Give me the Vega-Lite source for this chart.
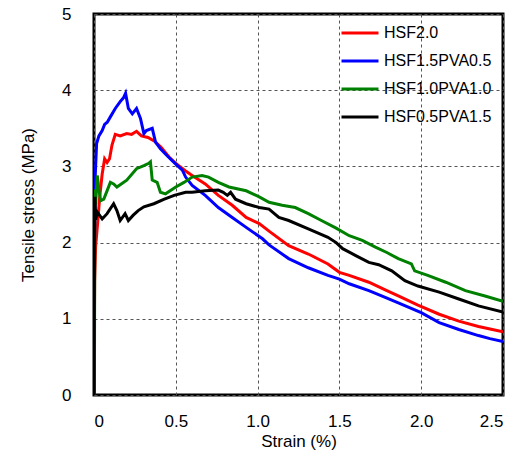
{
  "$schema": "https://vega.github.io/schema/vega-lite/v6.json",
  "width": 409,
  "height": 381,
  "autosize": {"type": "none"},
  "padding": {"left": 94, "top": 14, "right": 19, "bottom": 64},
  "background": "white",
  "config": {
    "font": "Liberation Sans",
    "view": {"stroke": "black", "strokeWidth": 3},
    "axis": {
      "domain": false,
      "ticks": false,
      "grid": true,
      "gridColor": "#555555",
      "gridDash": [3, 3],
      "gridWidth": 1,
      "labelFont": "Liberation Sans",
      "labelFontSize": 17,
      "labelColor": "black",
      "titleFont": "Liberation Sans",
      "titleFontSize": 17,
      "titleFontWeight": "normal",
      "titleColor": "black"
    },
    "legend": {
      "orient": "none",
      "legendX": 246,
      "legendY": 7,
      "padding": 0,
      "symbolType": "stroke",
      "symbolSize": 1369,
      "symbolStrokeWidth": 3,
      "clipHeight": 24,
      "rowPadding": 4,
      "labelFont": "Liberation Sans",
      "labelFontSize": 16,
      "labelColor": "black",
      "labelOffset": 4
    }
  },
  "data": {
    "values": [
      {"series": "HSF2.0", "strain": 0, "stress": 0},
      {"series": "HSF2.0", "strain": 0.004, "stress": 1.5},
      {"series": "HSF2.0", "strain": 0.01, "stress": 1.95},
      {"series": "HSF2.0", "strain": 0.02, "stress": 2.2},
      {"series": "HSF2.0", "strain": 0.035, "stress": 2.6},
      {"series": "HSF2.0", "strain": 0.05, "stress": 2.9},
      {"series": "HSF2.0", "strain": 0.065, "stress": 3.1},
      {"series": "HSF2.0", "strain": 0.08, "stress": 3.05},
      {"series": "HSF2.0", "strain": 0.095, "stress": 3.1},
      {"series": "HSF2.0", "strain": 0.11, "stress": 3.28},
      {"series": "HSF2.0", "strain": 0.13, "stress": 3.42},
      {"series": "HSF2.0", "strain": 0.16, "stress": 3.4},
      {"series": "HSF2.0", "strain": 0.2, "stress": 3.43},
      {"series": "HSF2.0", "strain": 0.23, "stress": 3.42},
      {"series": "HSF2.0", "strain": 0.26, "stress": 3.46},
      {"series": "HSF2.0", "strain": 0.29, "stress": 3.4},
      {"series": "HSF2.0", "strain": 0.33, "stress": 3.38},
      {"series": "HSF2.0", "strain": 0.37, "stress": 3.33},
      {"series": "HSF2.0", "strain": 0.41, "stress": 3.25},
      {"series": "HSF2.0", "strain": 0.46, "stress": 3.12},
      {"series": "HSF2.0", "strain": 0.5, "stress": 3.04},
      {"series": "HSF2.0", "strain": 0.56, "stress": 2.94},
      {"series": "HSF2.0", "strain": 0.6, "stress": 2.88},
      {"series": "HSF2.0", "strain": 0.68, "stress": 2.77},
      {"series": "HSF2.0", "strain": 0.76, "stress": 2.62},
      {"series": "HSF2.0", "strain": 0.845, "stress": 2.49},
      {"series": "HSF2.0", "strain": 0.93, "stress": 2.33},
      {"series": "HSF2.0", "strain": 1.01, "stress": 2.25},
      {"series": "HSF2.0", "strain": 1.07, "stress": 2.15},
      {"series": "HSF2.0", "strain": 1.19, "stress": 1.96},
      {"series": "HSF2.0", "strain": 1.31, "stress": 1.85},
      {"series": "HSF2.0", "strain": 1.43, "stress": 1.72},
      {"series": "HSF2.0", "strain": 1.5, "stress": 1.61},
      {"series": "HSF2.0", "strain": 1.56, "stress": 1.57},
      {"series": "HSF2.0", "strain": 1.68, "stress": 1.48},
      {"series": "HSF2.0", "strain": 1.79, "stress": 1.37},
      {"series": "HSF2.0", "strain": 1.86, "stress": 1.3},
      {"series": "HSF2.0", "strain": 1.98, "stress": 1.18},
      {"series": "HSF2.0", "strain": 2.11, "stress": 1.06},
      {"series": "HSF2.0", "strain": 2.23, "stress": 0.97},
      {"series": "HSF2.0", "strain": 2.35, "stress": 0.9},
      {"series": "HSF2.0", "strain": 2.5, "stress": 0.83},

      {"series": "HSF1.5PVA0.5", "strain": 0, "stress": 0},
      {"series": "HSF1.5PVA0.5", "strain": 0.003, "stress": 1.9},
      {"series": "HSF1.5PVA0.5", "strain": 0.008, "stress": 2.9},
      {"series": "HSF1.5PVA0.5", "strain": 0.016, "stress": 3.3},
      {"series": "HSF1.5PVA0.5", "strain": 0.03, "stress": 3.4},
      {"series": "HSF1.5PVA0.5", "strain": 0.05, "stress": 3.47},
      {"series": "HSF1.5PVA0.5", "strain": 0.065, "stress": 3.55},
      {"series": "HSF1.5PVA0.5", "strain": 0.081, "stress": 3.58},
      {"series": "HSF1.5PVA0.5", "strain": 0.1, "stress": 3.65},
      {"series": "HSF1.5PVA0.5", "strain": 0.13, "stress": 3.76},
      {"series": "HSF1.5PVA0.5", "strain": 0.16, "stress": 3.85},
      {"series": "HSF1.5PVA0.5", "strain": 0.18, "stress": 3.9},
      {"series": "HSF1.5PVA0.5", "strain": 0.193, "stress": 3.96},
      {"series": "HSF1.5PVA0.5", "strain": 0.21, "stress": 3.76},
      {"series": "HSF1.5PVA0.5", "strain": 0.234, "stress": 3.69},
      {"series": "HSF1.5PVA0.5", "strain": 0.26, "stress": 3.76},
      {"series": "HSF1.5PVA0.5", "strain": 0.284, "stress": 3.63},
      {"series": "HSF1.5PVA0.5", "strain": 0.305, "stress": 3.43},
      {"series": "HSF1.5PVA0.5", "strain": 0.32, "stress": 3.47},
      {"series": "HSF1.5PVA0.5", "strain": 0.356, "stress": 3.5},
      {"series": "HSF1.5PVA0.5", "strain": 0.376, "stress": 3.32},
      {"series": "HSF1.5PVA0.5", "strain": 0.406, "stress": 3.23},
      {"series": "HSF1.5PVA0.5", "strain": 0.447, "stress": 3.14},
      {"series": "HSF1.5PVA0.5", "strain": 0.5, "stress": 3.03},
      {"series": "HSF1.5PVA0.5", "strain": 0.54, "stress": 2.95},
      {"series": "HSF1.5PVA0.5", "strain": 0.56, "stress": 2.86},
      {"series": "HSF1.5PVA0.5", "strain": 0.6, "stress": 2.75},
      {"series": "HSF1.5PVA0.5", "strain": 0.68, "stress": 2.62},
      {"series": "HSF1.5PVA0.5", "strain": 0.76, "stress": 2.46},
      {"series": "HSF1.5PVA0.5", "strain": 0.845, "stress": 2.33},
      {"series": "HSF1.5PVA0.5", "strain": 0.93, "stress": 2.2},
      {"series": "HSF1.5PVA0.5", "strain": 1.03, "stress": 2.05},
      {"series": "HSF1.5PVA0.5", "strain": 1.07, "stress": 1.97},
      {"series": "HSF1.5PVA0.5", "strain": 1.19, "stress": 1.79},
      {"series": "HSF1.5PVA0.5", "strain": 1.31, "stress": 1.67},
      {"series": "HSF1.5PVA0.5", "strain": 1.43, "stress": 1.57},
      {"series": "HSF1.5PVA0.5", "strain": 1.5, "stress": 1.52},
      {"series": "HSF1.5PVA0.5", "strain": 1.56, "stress": 1.46},
      {"series": "HSF1.5PVA0.5", "strain": 1.68, "stress": 1.37},
      {"series": "HSF1.5PVA0.5", "strain": 1.78, "stress": 1.28},
      {"series": "HSF1.5PVA0.5", "strain": 1.86, "stress": 1.21},
      {"series": "HSF1.5PVA0.5", "strain": 2.0, "stress": 1.08},
      {"series": "HSF1.5PVA0.5", "strain": 2.11, "stress": 0.95},
      {"series": "HSF1.5PVA0.5", "strain": 2.23, "stress": 0.86},
      {"series": "HSF1.5PVA0.5", "strain": 2.35, "stress": 0.78},
      {"series": "HSF1.5PVA0.5", "strain": 2.42, "stress": 0.74},
      {"series": "HSF1.5PVA0.5", "strain": 2.5, "stress": 0.7},

      {"series": "HSF1.0PVA1.0", "strain": 0, "stress": 0},
      {"series": "HSF1.0PVA1.0", "strain": 0.003, "stress": 0.45},
      {"series": "HSF1.0PVA1.0", "strain": 0.005, "stress": 2.7},
      {"series": "HSF1.0PVA1.0", "strain": 0.01, "stress": 2.5},
      {"series": "HSF1.0PVA1.0", "strain": 0.02, "stress": 2.88},
      {"series": "HSF1.0PVA1.0", "strain": 0.03, "stress": 2.7},
      {"series": "HSF1.0PVA1.0", "strain": 0.04, "stress": 2.55},
      {"series": "HSF1.0PVA1.0", "strain": 0.06, "stress": 2.57},
      {"series": "HSF1.0PVA1.0", "strain": 0.1, "stress": 2.79},
      {"series": "HSF1.0PVA1.0", "strain": 0.12, "stress": 2.77},
      {"series": "HSF1.0PVA1.0", "strain": 0.14, "stress": 2.73},
      {"series": "HSF1.0PVA1.0", "strain": 0.2, "stress": 2.82},
      {"series": "HSF1.0PVA1.0", "strain": 0.26, "stress": 2.97},
      {"series": "HSF1.0PVA1.0", "strain": 0.305, "stress": 3.01},
      {"series": "HSF1.0PVA1.0", "strain": 0.335, "stress": 3.04},
      {"series": "HSF1.0PVA1.0", "strain": 0.345, "stress": 3.06},
      {"series": "HSF1.0PVA1.0", "strain": 0.356, "stress": 2.82},
      {"series": "HSF1.0PVA1.0", "strain": 0.386, "stress": 2.79},
      {"series": "HSF1.0PVA1.0", "strain": 0.406, "stress": 2.66},
      {"series": "HSF1.0PVA1.0", "strain": 0.437, "stress": 2.64},
      {"series": "HSF1.0PVA1.0", "strain": 0.5, "stress": 2.73},
      {"series": "HSF1.0PVA1.0", "strain": 0.55, "stress": 2.79},
      {"series": "HSF1.0PVA1.0", "strain": 0.6, "stress": 2.86},
      {"series": "HSF1.0PVA1.0", "strain": 0.66, "stress": 2.88},
      {"series": "HSF1.0PVA1.0", "strain": 0.7, "stress": 2.86},
      {"series": "HSF1.0PVA1.0", "strain": 0.76, "stress": 2.79},
      {"series": "HSF1.0PVA1.0", "strain": 0.825, "stress": 2.73},
      {"series": "HSF1.0PVA1.0", "strain": 0.93, "stress": 2.68},
      {"series": "HSF1.0PVA1.0", "strain": 1.01, "stress": 2.6},
      {"series": "HSF1.0PVA1.0", "strain": 1.07, "stress": 2.53},
      {"series": "HSF1.0PVA1.0", "strain": 1.15, "stress": 2.49},
      {"series": "HSF1.0PVA1.0", "strain": 1.23, "stress": 2.46},
      {"series": "HSF1.0PVA1.0", "strain": 1.31, "stress": 2.38},
      {"series": "HSF1.0PVA1.0", "strain": 1.39, "stress": 2.29},
      {"series": "HSF1.0PVA1.0", "strain": 1.48, "stress": 2.19},
      {"series": "HSF1.0PVA1.0", "strain": 1.56, "stress": 2.09},
      {"series": "HSF1.0PVA1.0", "strain": 1.64, "stress": 2.03},
      {"series": "HSF1.0PVA1.0", "strain": 1.72, "stress": 1.94},
      {"series": "HSF1.0PVA1.0", "strain": 1.79, "stress": 1.87},
      {"series": "HSF1.0PVA1.0", "strain": 1.86, "stress": 1.79},
      {"series": "HSF1.0PVA1.0", "strain": 1.94, "stress": 1.72},
      {"series": "HSF1.0PVA1.0", "strain": 1.96, "stress": 1.63},
      {"series": "HSF1.0PVA1.0", "strain": 2.04, "stress": 1.57},
      {"series": "HSF1.0PVA1.0", "strain": 2.15, "stress": 1.48},
      {"series": "HSF1.0PVA1.0", "strain": 2.27, "stress": 1.37},
      {"series": "HSF1.0PVA1.0", "strain": 2.39, "stress": 1.3},
      {"series": "HSF1.0PVA1.0", "strain": 2.5, "stress": 1.23},

      {"series": "HSF0.5PVA1.5", "strain": 0, "stress": 0},
      {"series": "HSF0.5PVA1.5", "strain": 0.003, "stress": 2.2},
      {"series": "HSF0.5PVA1.5", "strain": 0.006, "stress": 2.6},
      {"series": "HSF0.5PVA1.5", "strain": 0.01, "stress": 2.3},
      {"series": "HSF0.5PVA1.5", "strain": 0.02, "stress": 2.4},
      {"series": "HSF0.5PVA1.5", "strain": 0.05, "stress": 2.31},
      {"series": "HSF0.5PVA1.5", "strain": 0.08, "stress": 2.38},
      {"series": "HSF0.5PVA1.5", "strain": 0.12, "stress": 2.51},
      {"series": "HSF0.5PVA1.5", "strain": 0.14, "stress": 2.42},
      {"series": "HSF0.5PVA1.5", "strain": 0.16, "stress": 2.29},
      {"series": "HSF0.5PVA1.5", "strain": 0.19, "stress": 2.38},
      {"series": "HSF0.5PVA1.5", "strain": 0.21, "stress": 2.29},
      {"series": "HSF0.5PVA1.5", "strain": 0.24, "stress": 2.36},
      {"series": "HSF0.5PVA1.5", "strain": 0.27, "stress": 2.42},
      {"series": "HSF0.5PVA1.5", "strain": 0.305, "stress": 2.47},
      {"series": "HSF0.5PVA1.5", "strain": 0.366, "stress": 2.51},
      {"series": "HSF0.5PVA1.5", "strain": 0.43, "stress": 2.57},
      {"series": "HSF0.5PVA1.5", "strain": 0.49, "stress": 2.62},
      {"series": "HSF0.5PVA1.5", "strain": 0.56, "stress": 2.66},
      {"series": "HSF0.5PVA1.5", "strain": 0.6, "stress": 2.66},
      {"series": "HSF0.5PVA1.5", "strain": 0.68, "stress": 2.68},
      {"series": "HSF0.5PVA1.5", "strain": 0.76, "stress": 2.69},
      {"series": "HSF0.5PVA1.5", "strain": 0.79, "stress": 2.66},
      {"series": "HSF0.5PVA1.5", "strain": 0.815, "stress": 2.62},
      {"series": "HSF0.5PVA1.5", "strain": 0.835, "stress": 2.66},
      {"series": "HSF0.5PVA1.5", "strain": 0.865, "stress": 2.57},
      {"series": "HSF0.5PVA1.5", "strain": 0.93, "stress": 2.51},
      {"series": "HSF0.5PVA1.5", "strain": 1.01, "stress": 2.46},
      {"series": "HSF0.5PVA1.5", "strain": 1.07, "stress": 2.44},
      {"series": "HSF0.5PVA1.5", "strain": 1.13, "stress": 2.33},
      {"series": "HSF0.5PVA1.5", "strain": 1.19, "stress": 2.29},
      {"series": "HSF0.5PVA1.5", "strain": 1.31, "stress": 2.18},
      {"series": "HSF0.5PVA1.5", "strain": 1.43, "stress": 2.07},
      {"series": "HSF0.5PVA1.5", "strain": 1.48, "stress": 2.0},
      {"series": "HSF0.5PVA1.5", "strain": 1.52, "stress": 1.92},
      {"series": "HSF0.5PVA1.5", "strain": 1.6, "stress": 1.83},
      {"series": "HSF0.5PVA1.5", "strain": 1.68, "stress": 1.74},
      {"series": "HSF0.5PVA1.5", "strain": 1.74, "stress": 1.71},
      {"series": "HSF0.5PVA1.5", "strain": 1.82, "stress": 1.63},
      {"series": "HSF0.5PVA1.5", "strain": 1.9, "stress": 1.5},
      {"series": "HSF0.5PVA1.5", "strain": 1.98, "stress": 1.43},
      {"series": "HSF0.5PVA1.5", "strain": 2.11, "stress": 1.35},
      {"series": "HSF0.5PVA1.5", "strain": 2.23, "stress": 1.26},
      {"series": "HSF0.5PVA1.5", "strain": 2.35, "stress": 1.17},
      {"series": "HSF0.5PVA1.5", "strain": 2.5, "stress": 1.09}
    ]
  },
  "mark": {"type": "line", "strokeWidth": 3, "clip": true},
  "encoding": {
    "x": {
      "field": "strain",
      "type": "quantitative",
      "scale": {"domain": [0, 2.5], "nice": false, "zero": false},
      "axis": {
        "title": "Strain (%)",
        "values": [0, 0.5, 1, 1.5, 2, 2.5],
        "labelExpr": "datum.value == 0 ? '0' : format(datum.value, '.1f')",
        "labelPadding": 18,
        "titlePadding": 4
      }
    },
    "y": {
      "field": "stress",
      "type": "quantitative",
      "scale": {"domain": [0, 5], "nice": false},
      "axis": {
        "title": "Tensile stress (MPa)",
        "values": [0, 1, 2, 3, 4, 5],
        "labelPadding": 23,
        "titlePadding": 24
      }
    },
    "color": {
      "field": "series",
      "type": "nominal",
      "sort": ["HSF2.0", "HSF1.5PVA0.5", "HSF1.0PVA1.0", "HSF0.5PVA1.5"],
      "scale": {
        "domain": ["HSF2.0", "HSF1.5PVA0.5", "HSF1.0PVA1.0", "HSF0.5PVA1.5"],
        "range": ["#ff0000", "#0000ff", "#008000", "#000000"]
      },
      "legend": {"title": null}
    }
  }
}
